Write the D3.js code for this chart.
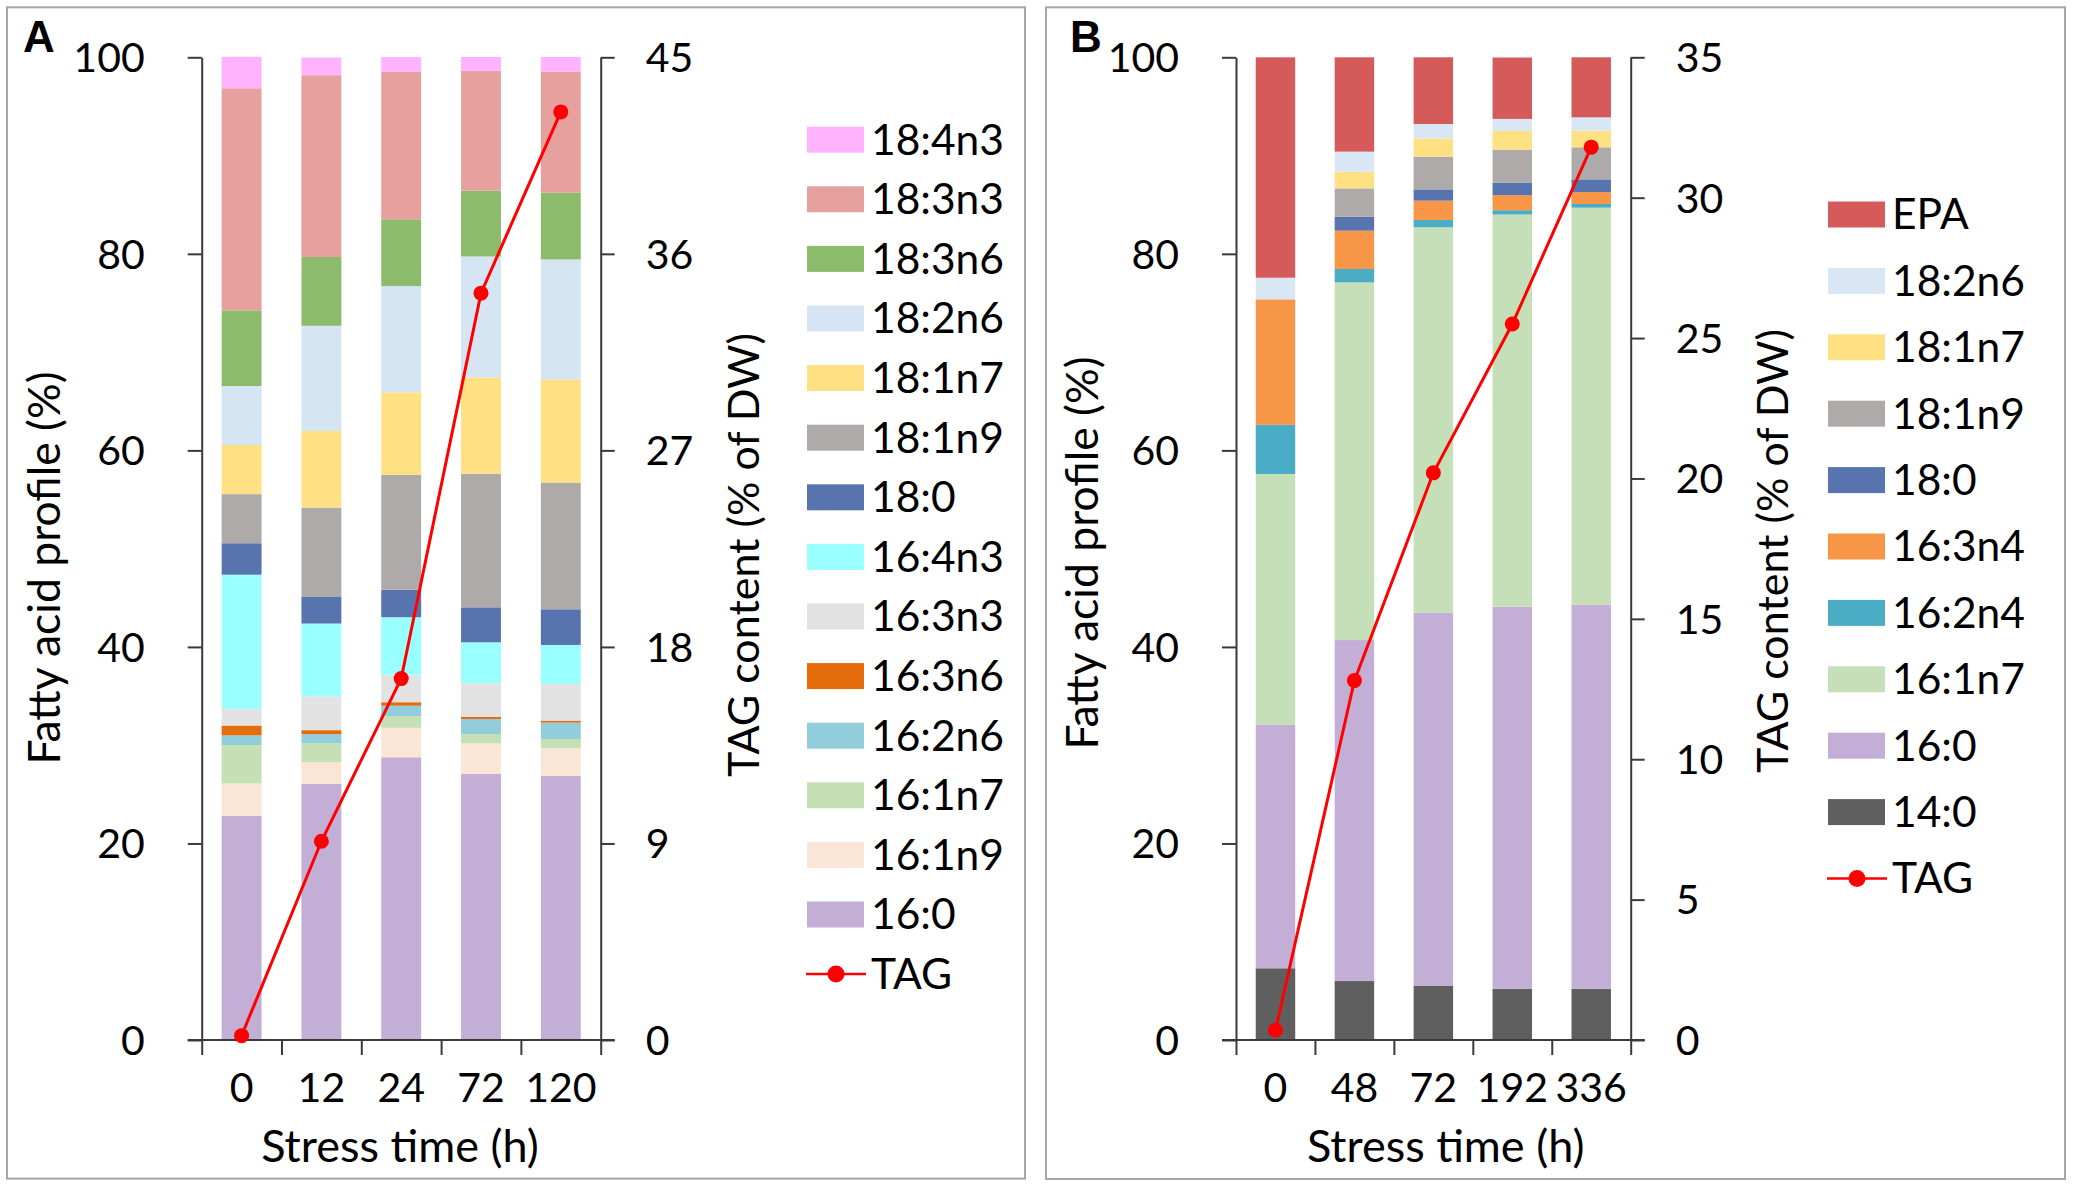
<!DOCTYPE html>
<html>
<head>
<meta charset="utf-8">
<script src="https://cdn.jsdelivr.net/npm/d3@7"></script>
<style>
  html, body { margin: 0; padding: 0; background: #ffffff; }
  svg { display: block; }
  text { font-family: Lato, "Liberation Sans", sans-serif; fill: #000; }
</style>
</head>
<body>
<svg id="chart" width="2074" height="1187"></svg>
<script>
// ---------------- Panel A data ----------------
const timesA = ["0", "12", "24", "72", "120"];
const A_16_0   = [22.8, 26.05, 28.77, 27.07, 26.87];
const A_16_1n9 = [3.3, 2.2, 3.0, 3.12, 2.81];
const A_16_1n7 = [3.9, 1.93, 1.2, 0.95, 0.95];
const A_16_2n6 = [1.0, 0.95, 1.05, 1.53, 1.67];
const A_16_3n6 = [1.0, 0.4, 0.35, 0.23, 0.2];
const A_16_3n3 = [1.7, 3.45, 2.8, 3.4, 3.73];
const A_16_4n3 = [13.65, 7.4, 5.85, 4.17, 3.97];
const A_18_0   = [3.2, 2.7, 2.8, 3.56, 3.63];
const A_18_1n9 = [5.0, 9.1, 11.7, 13.6, 12.9];
const A_18_1n7 = [5.0, 7.8, 8.4, 9.8, 10.5];
const A_18_2n6 = [6.0, 10.7, 10.8, 12.3, 12.2];
const A_18_3n6 = [7.7, 7.0, 6.8, 6.7, 6.8];
const A_18_3n3 = [22.6, 18.5, 15.0, 12.2, 12.3];
const A_18_4n3 = [3.2, 1.8, 1.5, 1.4, 1.5];
const tagA = [0.2, 9.1, 16.55, 34.2, 42.5];
const leftTicksA = [0, 20, 40, 60, 80, 100];
const rightTicksA = [0, 9, 18, 27, 36, 45];

// ---------------- Panel B data ----------------
const timesB = ["0", "48", "72", "192", "336"];
const B_14_0   = [7.3, 6.0, 5.5, 5.2, 5.2];
const B_16_0   = [24.8, 34.7, 38.0, 38.9, 39.1];
const B_16_1n7 = [25.5, 36.4, 39.2, 39.9, 40.4];
const B_16_2n4 = [5.0, 1.36, 0.74, 0.44, 0.37];
const B_16_3n4 = [12.77, 3.9, 1.97, 1.53, 1.22];
const B_18_0   = [0, 1.42, 1.15, 1.25, 1.29];
const B_18_1n9 = [0, 2.88, 3.33, 3.39, 3.26];
const B_18_1n7 = [0, 1.7, 1.86, 1.9, 1.69];
const B_18_2n6 = [2.2, 2.04, 1.46, 1.22, 1.36];
const B_EPA    = [22.43, 9.6, 6.79, 6.25, 6.11];
const tagB = [0.35, 12.8, 20.2, 25.5, 31.8];
const leftTicksB = [0, 20, 40, 60, 80, 100];
const rightTicksB = [0, 5, 10, 15, 20, 25, 30, 35];

// series, bottom to top
const seriesA = [
  ["16:0", A_16_0], ["16:1n9", A_16_1n9], ["16:1n7", A_16_1n7], ["16:2n6", A_16_2n6],
  ["16:3n6", A_16_3n6], ["16:3n3", A_16_3n3], ["16:4n3", A_16_4n3], ["18:0", A_18_0],
  ["18:1n9", A_18_1n9], ["18:1n7", A_18_1n7], ["18:2n6", A_18_2n6], ["18:3n6", A_18_3n6],
  ["18:3n3", A_18_3n3], ["18:4n3", A_18_4n3]
];
const seriesB = [
  ["14:0", B_14_0], ["16:0", B_16_0], ["16:1n7", B_16_1n7], ["16:2n4", B_16_2n4],
  ["16:3n4", B_16_3n4], ["18:0", B_18_0], ["18:1n9", B_18_1n9], ["18:1n7", B_18_1n7],
  ["18:2n6", B_18_2n6], ["EPA", B_EPA]
];

// colours (style, separate from data)
const colorsA = {
  "16:0": "#c3aed6", "16:1n9": "#fbe5d6", "16:1n7": "#c5e0b4", "16:2n6": "#92cddc",
  "16:3n6": "#e46c0a", "16:3n3": "#e2e2e2", "16:4n3": "#99ffff", "18:0": "#5874af",
  "18:1n9": "#aeaaaa", "18:1n7": "#ffe083", "18:2n6": "#d6e5f4", "18:3n6": "#8cbc6b",
  "18:3n3": "#e6a19f", "18:4n3": "#ffb3ff"
};
const colorsB = {
  "14:0": "#5f5f5f", "16:0": "#c3aed6", "16:1n7": "#c5dfb8", "16:2n4": "#4bacc6",
  "16:3n4": "#f79646", "18:0": "#5874af", "18:1n9": "#aeaaaa", "18:1n7": "#ffe083",
  "18:2n6": "#d9e7f5", "EPA": "#d55b5b"
};

const svg = d3.select("#chart");
svg.append("rect").attr("width", 2074).attr("height", 1187).attr("fill", "#fff");

const FS = 41;        // tick labels
const FS_LEG = 42.5;  // legend
const FS_X = 45;      // x title
const FS_L = 44.5;    // left title
const FS_R = 43;      // right title
const AXIS_COLOR = "#3a3a3a";

function panel(cfg) {
  const g = svg.append("g");
  // frame
  g.append("rect")
    .attr("x", cfg.frame[0]).attr("y", cfg.frame[1])
    .attr("width", cfg.frame[2]).attr("height", cfg.frame[3])
    .attr("fill", "none").attr("stroke", "#a6a6a6").attr("stroke-width", 2);

  // panel letter
  g.append("text").attr("x", cfg.letterX).attr("y", 52)
    .style("font-family", "'Liberation Sans', Arial, sans-serif")
    .style("font-weight", "bold").style("font-size", "44px")
    .text(cfg.letter);

  const x = d3.scaleBand().domain(cfg.times).range([cfg.x0, cfg.x1])
    .paddingInner(0.5).paddingOuter(0.25);
  const y = d3.scaleLinear().domain([0, 100]).range([cfg.yBot, cfg.yTop]);
  const yR = d3.scaleLinear().domain([0, cfg.rMax]).range([cfg.yBot, cfg.yTop]);

  // stacked data
  const keys = cfg.series.map(s => s[0]);
  const rows = cfg.times.map((t, i) => {
    const o = { time: t };
    cfg.series.forEach(s => { o[s[0]] = s[1][i]; });
    return o;
  });
  const stacked = d3.stack().keys(keys)(rows);

  g.append("g").selectAll("g").data(stacked).join("g")
    .attr("fill", d => cfg.colors[d.key])
    .selectAll("rect").data(d => d).join("rect")
    .attr("x", d => x(d.data.time))
    .attr("width", x.bandwidth())
    .attr("y", d => y(d[1]))
    .attr("height", d => Math.max(0, y(d[0]) - y(d[1])));

  // left axis
  const la = g.append("g").attr("transform", `translate(${cfg.x0},0)`)
    .call(d3.axisLeft(y).tickValues(cfg.leftTicks).tickSize(14).tickSizeOuter(0).tickPadding(43));
  // right axis
  const ra = g.append("g").attr("transform", `translate(${cfg.x1},0)`)
    .call(d3.axisRight(yR).tickValues(cfg.rightTicks).tickSize(14).tickSizeOuter(0).tickPadding(31));
  [la, ra].forEach(a => {
    a.selectAll("path,line").attr("stroke", AXIS_COLOR).attr("stroke-width", 2);
    a.selectAll("text").style("font-size", FS + "px").attr("fill", "#000").attr("dy", "0.35em");
  });

  // bottom axis: boundary ticks
  const xb = d3.scaleLinear().domain([0, cfg.times.length]).range([cfg.x0, cfg.x1]);
  const ba = g.append("g").attr("transform", `translate(0,${cfg.yBot})`)
    .call(d3.axisBottom(xb).tickValues(d3.range(cfg.times.length + 1)).tickSize(15)
      .tickSizeOuter(0).tickFormat(""));
  ba.select(".domain").remove();
  ba.selectAll("line").attr("stroke", AXIS_COLOR).attr("stroke-width", 2);
  g.append("line")
    .attr("x1", cfg.x0 - 14).attr("x2", cfg.x1 + 14)
    .attr("y1", cfg.yBot).attr("y2", cfg.yBot)
    .attr("stroke", AXIS_COLOR).attr("stroke-width", 2);

  // category labels
  g.append("g").selectAll("text").data(cfg.times).join("text")
    .attr("x", d => x(d) + x.bandwidth() / 2)
    .attr("y", cfg.yBot + 62)
    .attr("text-anchor", "middle")
    .style("font-size", FS + "px")
    .text(d => d);

  // x title
  g.append("text").attr("x", cfg.xTitleX).attr("y", 1162)
    .attr("text-anchor", "middle").style("font-size", FS_X + "px")
    .text("Stress time (h)");

  // left title
  g.append("text")
    .attr("transform", `translate(${cfg.lTitle[0]},${cfg.lTitle[1]}) rotate(-90)`)
    .attr("text-anchor", "middle").style("font-size", FS_L + "px")
    .text("Fatty acid profile (%)");
  // right title
  g.append("text")
    .attr("transform", `translate(${cfg.rTitle[0]},${cfg.rTitle[1]}) rotate(-90)`)
    .attr("text-anchor", "middle").style("font-size", FS_R + "px")
    .text("TAG content (% of DW)");

  // TAG line
  const line = d3.line()
    .x((d, i) => x(cfg.times[i]) + x.bandwidth() / 2)
    .y(d => yR(d));
  g.append("path").datum(cfg.tag)
    .attr("d", line).attr("fill", "none")
    .attr("stroke", "#ff0000").attr("stroke-width", 3);
  g.append("g").selectAll("circle").data(cfg.tag).join("circle")
    .attr("cx", (d, i) => x(cfg.times[i]) + x.bandwidth() / 2)
    .attr("cy", d => yR(d))
    .attr("r", 7.5).attr("fill", "#ff0000");

  // legend (top to bottom = reverse of stack)
  const legKeys = keys.slice().reverse();
  const lg = g.append("g");
  legKeys.forEach((k, i) => {
    const cy = cfg.leg.y0 + i * cfg.leg.step;
    lg.append("rect").attr("x", cfg.leg.x).attr("y", cy - 13)
      .attr("width", 57).attr("height", 26).attr("fill", cfg.colors[k]);
    lg.append("text").attr("x", cfg.leg.tx).attr("y", cy).attr("dy", "0.35em")
      .style("font-size", FS_LEG + "px").text(k);
  });
  const ty = cfg.leg.y0 + legKeys.length * cfg.leg.step;
  lg.append("line").attr("x1", cfg.leg.x - 1).attr("x2", cfg.leg.x + 59)
    .attr("y1", ty).attr("y2", ty).attr("stroke", "#ff0000").attr("stroke-width", 2.5);
  lg.append("circle").attr("cx", cfg.leg.x + 29).attr("cy", ty).attr("r", 8.5).attr("fill", "#ff0000");
  lg.append("text").attr("x", cfg.leg.tx).attr("y", ty).attr("dy", "0.35em")
    .style("font-size", FS_LEG + "px").text("TAG");
}

panel({
  letter: "A", letterX: 23, frame: [7, 7.3, 1018, 1171.3],
  times: timesA, series: seriesA, colors: colorsA, tag: tagA,
  leftTicks: leftTicksA, rightTicks: rightTicksA, rMax: 45,
  x0: 201.7, x1: 600.7, yTop: 57.3, yBot: 1040,
  xTitleX: 400, lTitle: [60, 568], rTitle: [759, 555],
  leg: { x: 807, tx: 871, y0: 139.7, step: 59.6 }
});

panel({
  letter: "B", letterX: 1070, frame: [1046, 7.3, 1019, 1171.7],
  times: timesB, series: seriesB, colors: colorsB, tag: tagB,
  leftTicks: leftTicksB, rightTicks: rightTicksB, rMax: 35,
  x0: 1236, x1: 1630.7, yTop: 57.3, yBot: 1040,
  xTitleX: 1445.7, lTitle: [1098, 553], rTitle: [1788, 551],
  leg: { x: 1828, tx: 1892, y0: 214.5, step: 66.4 }
});
</script>
</body>
</html>
